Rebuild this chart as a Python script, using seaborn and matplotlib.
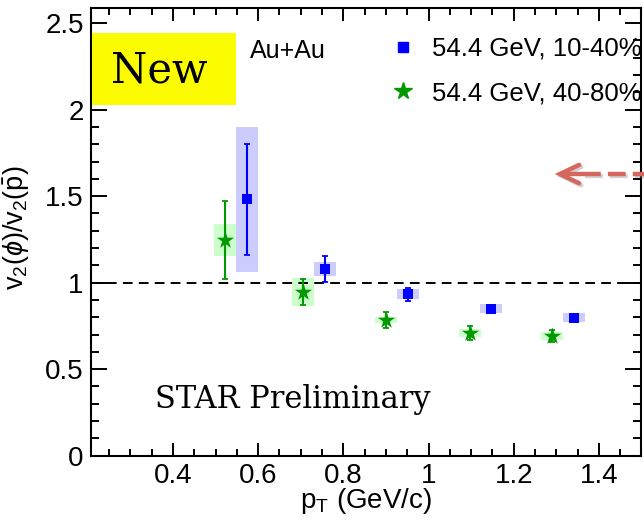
import numpy as np
import pandas as pd
import seaborn as sns
import matplotlib
matplotlib.use("Agg")
import matplotlib.pyplot as plt
from matplotlib.ticker import MultipleLocator, FuncFormatter
from matplotlib.lines import Line2D
import matplotlib.patheffects as pe

# ---- data ----
pt_b = [0.574, 0.757, 0.951, 1.147, 1.341]      # 54.4 GeV, 10-40%
v_b = [1.482, 1.081, 0.933, 0.850, 0.798]
stat_b = [0.32, 0.075, 0.036, 0.015, 0.015]
sys_b = [0.42, 0.04, 0.03, 0.028, 0.028]

pt_g = [0.523, 0.706, 0.901, 1.097, 1.290]      # 54.4 GeV, 40-80%
v_g = [1.247, 0.948, 0.784, 0.711, 0.690]
stat_g = [0.225, 0.075, 0.046, 0.04, 0.035]
sys_g = [0.095, 0.08, 0.018, 0.024, 0.024]

labels = ["54.4 GeV, 10-40%", "54.4 GeV, 40-80%"]
xticks = [0.4, 0.6, 0.8, 1.0, 1.2, 1.4]
yticks = [0, 0.5, 1, 1.5, 2, 2.5]

df_b = pd.DataFrame({"pt": pt_b, "v": v_b, "stat": stat_b, "sys": sys_b})
df_g = pd.DataFrame({"pt": pt_g, "v": v_g, "stat": stat_g, "sys": sys_g})

BLUE = "#0000ff"
BLUE_BAND = "#ccccff"
GREEN = "#009a00"
GREEN_BAND = "#ccffcc"

sns.set_theme(style="ticks")
plt.rcParams["font.family"] = ["Liberation Sans", "DejaVu Sans"]
plt.rcParams["text.color"] = "black"
plt.rcParams["axes.labelcolor"] = "black"
plt.rcParams["mathtext.fontset"] = "custom"
plt.rcParams["mathtext.rm"] = "Liberation Sans"
plt.rcParams["mathtext.it"] = "Liberation Sans:italic"
plt.rcParams["mathtext.sf"] = "Liberation Sans"

fig = plt.figure(figsize=(6.44, 5.23), dpi=100)
ax = fig.add_axes([0.1408, 0.1287, 0.8541, 0.8554])

# systematic bands
ax.bar(df_b["pt"], 2 * df_b["sys"], bottom=df_b["v"] - df_b["sys"], width=0.052,
       color=BLUE_BAND, linewidth=0, zorder=2)
ax.bar(df_g["pt"], 2 * df_g["sys"], bottom=df_g["v"] - df_g["sys"], width=0.052,
       color=GREEN_BAND, linewidth=0, zorder=2)

# reference line at 1
ax.axhline(1.0, color="black", lw=1.4, ls=(0, (5.0, 3.2)), zorder=3)

# statistical errors
ax.errorbar(df_b["pt"], df_b["v"], yerr=df_b["stat"], fmt="none", ecolor=BLUE,
            elinewidth=1.5, capsize=2.5, capthick=1.3, zorder=4)
ax.errorbar(df_g["pt"], df_g["v"], yerr=df_g["stat"], fmt="none", ecolor=GREEN,
            elinewidth=1.5, capsize=2.5, capthick=1.3, zorder=4)

# points
sns.scatterplot(data=df_b, x="pt", y="v", marker="s", color=BLUE, s=55,
                linewidth=0, ax=ax, zorder=5, legend=False)
sns.scatterplot(data=df_g, x="pt", y="v", marker="*", color=GREEN, s=170,
                linewidth=0, ax=ax, zorder=5, legend=False)

# axes
ax.set_xlim(0.207, 1.498)
ax.set_ylim(0, 2.586)
ax.set_xticks(xticks)
ax.set_yticks(yticks)
ax.xaxis.set_minor_locator(MultipleLocator(0.05))
ax.yaxis.set_minor_locator(MultipleLocator(0.1))
fmt = FuncFormatter(lambda v, p: f"{v:g}")
ax.xaxis.set_major_formatter(fmt)
ax.yaxis.set_major_formatter(fmt)
for s in ax.spines.values():
    s.set_linewidth(1.5)
    s.set_color("black")
    s.set_visible(True)
ax.tick_params(which="both", direction="in", top=True, right=True,
               width=1.4, color="black", labelsize=20, labelcolor="black")
ax.tick_params(axis="x", which="major", length=9.4, pad=5)
ax.tick_params(axis="x", which="minor", length=4.7)
ax.tick_params(axis="y", which="major", length=11.5, pad=5)
ax.tick_params(axis="y", which="minor", length=5.8)

ax.set_xlabel(r"p$_{\mathrm{T}}$ (GeV/c)", fontsize=20, color="black")
ax.set_ylabel(r"v$_2$($\phi$)/v$_2$($\bar{\mathrm{p}}$)", fontsize=19.5, color="black")
ax.xaxis.set_label_coords(0.5, -0.068)
ax.yaxis.set_label_coords(-0.106, 0.51)

# "New" yellow box
ax.add_patch(plt.Rectangle((0.002, 0.784), 0.262, 0.160, transform=ax.transAxes,
                           facecolor="#fcfc00", edgecolor="none", zorder=6))
ax.text(0.124, 0.862, "New", transform=ax.transAxes, ha="center", va="center",
        fontsize=30, family="DejaVu Serif", color="black", zorder=7)

ax.text(0.29, 0.905, "Au+Au", transform=ax.transAxes, ha="left", va="center",
        fontsize=18, color="black")

ax.text(0.117, 0.107, "STAR Preliminary", transform=ax.transAxes, ha="left",
        va="baseline", fontsize=22, family="DejaVu Serif", color="black")

# legend
handles = [Line2D([], [], marker="s", color=BLUE, ls="", ms=7.4),
           Line2D([], [], marker="*", color=GREEN, ls="", ms=13)]
leg = ax.legend(handles, labels, loc="upper left", bbox_to_anchor=(0.544, 0.937),
                frameon=False, fontsize=18.5, handlelength=1.0, handletextpad=0.65,
                labelspacing=0.8, borderpad=0, borderaxespad=0)
for t in leg.get_texts():
    t.set_color("black")

# red dashed arrow
shadow = [pe.SimpleLineShadow(offset=(1.5, -1.5), shadow_color="gray", alpha=0.35), pe.Normal()]
ARROW = "#d6675e"
ax.plot([0.895, 1.01], [0.6296, 0.6296], transform=ax.transAxes, color=ARROW,
        lw=3.2, ls=(0, (4.0, 1.6)), solid_capstyle="butt", clip_on=False,
        path_effects=shadow, zorder=8)
ax.plot([0.888, 0.853, 0.888], [0.650, 0.6296, 0.609], transform=ax.transAxes,
        color=ARROW, lw=3.2, solid_capstyle="round", solid_joinstyle="miter",
        clip_on=False, path_effects=shadow, zorder=8)
ax.plot([0.853, 0.895], [0.6296, 0.6296], transform=ax.transAxes, color=ARROW,
        lw=3.2, solid_capstyle="butt", clip_on=False, zorder=8)

fig.savefig("out.png", dpi=100)
